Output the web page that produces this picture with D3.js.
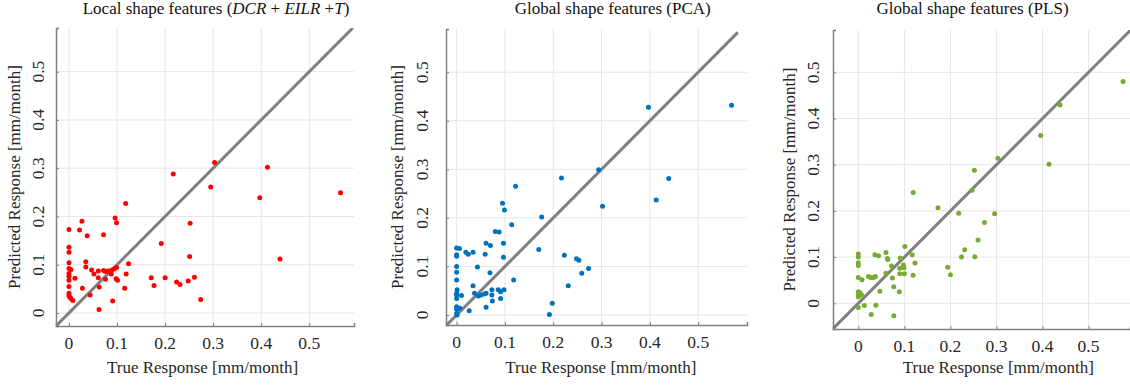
<!DOCTYPE html>
<html>
<head>
<meta charset="utf-8">
<script src="https://cdn.jsdelivr.net/npm/d3@7"></script>
<style>
  html, body { margin: 0; padding: 0; background: #fff; }
  svg { display: block; font-family: "Liberation Serif", "Times New Roman", serif; }
</style>
</head>
<body>
<div class="charts"></div>
<script>
const TITLES = [
  ["Local shape features (", ["DCR", true], " + ", ["EILR", true], " +", ["T", true], ")"],
  ["Global shape features (PCA)"],
  ["Global shape features (PLS)"],
];
const TICKS = [0, 0.1, 0.2, 0.3, 0.4, 0.5];
const TICK_LABELS = ["0", "0.1", "0.2", "0.3", "0.4", "0.5"];
const X_LABEL = "True Response [mm/month]";
const Y_LABEL = "Predicted Response [mm/month]";
const COLORS = ["#ff0000", "#0072bd", "#77ac30"];

// [true, predicted]
const localPts = [
  [0.303, 0.312], [0.217, 0.288], [0.295, 0.261], [0.413, 0.302], [0.397, 0.239], [0.565, 0.249],
  [0.118, 0.227], [0.096, 0.197], [0.099, 0.187], [0.027, 0.190], [0, 0.173], [0.022, 0.172],
  [0.038, 0.160], [0.072, 0.162], [0.252, 0.186], [0.192, 0.144], [0, 0.136], [0, 0.126],
  [0.251, 0.117], [0.439, 0.112], [0.035, 0.106], [0, 0.104], [0.124, 0.102], [0.035, 0.095],
  [0, 0.092], [0.004, 0.090], [0.047, 0.089], [0.052, 0.081], [0.061, 0.087], [0.072, 0.088],
  [0.076, 0.086], [0.081, 0.087], [0.089, 0.089], [0.094, 0.091], [0.099, 0.094], [0.088, 0.081],
  [0.076, 0.070], [0.061, 0.073], [0.098, 0.071], [0.101, 0.068], [0.119, 0.081], [0, 0.082],
  [0, 0.076], [0, 0.068], [0.0125, 0.072], [0, 0.055], [0.028, 0.051], [0.063, 0.054],
  [0.116, 0.051], [0, 0.041], [0, 0.035], [0.004, 0.030], [0.008, 0.026], [0.002, 0.033],
  [0.044, 0.037], [0.0625, 0.007], [0.091, 0.025], [0.171, 0.073], [0.177, 0.057], [0.2, 0.073],
  [0.224, 0.064], [0.231, 0.059], [0.248, 0.066], [0.261, 0.074], [0.274, 0.028],
];

const pcaPts = [
  [0.397, 0.428], [0.569, 0.432], [0.217, 0.282], [0.294, 0.299], [0.439, 0.281], [0.413, 0.237],
  [0.302, 0.224], [0.122, 0.265], [0.095, 0.230], [0.099, 0.216], [0.176, 0.202], [0.114, 0.186],
  [0.080, 0.172], [0.088, 0.171], [0.061, 0.148], [0.070, 0.143], [0.097, 0.148], [0.170, 0.135],
  [0, 0.138], [0.006, 0.137], [0, 0.124], [0, 0.121], [0.019, 0.129], [0.024, 0.125],
  [0.034, 0.129], [0.059, 0.125], [0.097, 0.119], [0.223, 0.123], [0.248, 0.116], [0.253, 0.113],
  [0.273, 0.096], [0.259, 0.086], [0, 0.100], [0, 0.088], [0, 0.072], [0.043, 0.099],
  [0.069, 0.087], [0.118, 0.072], [0.034, 0.060], [0.231, 0.060], [0.001, 0.052], [0.010, 0.040],
  [0, 0.045], [0, 0.041], [0, 0.034], [0.037, 0.045], [0.045, 0.039], [0.050, 0.041],
  [0.057, 0.043], [0.061, 0.045], [0.073, 0.052], [0.073, 0.041], [0.074, 0.029], [0.086, 0.052],
  [0.091, 0.048], [0.098, 0.052], [0.091, 0.034], [0.061, 0.016], [0, 0.017], [0, 0.012],
  [0.002, 0.014], [0.007, 0.014], [0, 0.003], [0.001, 0], [0.026, 0.009], [0.198, 0.024],
  [0.192, 0.001],
];

const plsPts = [
  [0.575, 0.480], [0.438, 0.429], [0.396, 0.363], [0.414, 0.301], [0.303, 0.314], [0.252, 0.288],
  [0.119, 0.240], [0.247, 0.245], [0.173, 0.207], [0.218, 0.195], [0.296, 0.194], [0.274, 0.175],
  [0.260, 0.137], [0.231, 0.116], [0.224, 0.100], [0.253, 0.101], [0.194, 0.078], [0.200, 0.062],
  [0, 0.107], [0, 0.100], [0, 0.088], [0, 0.082], [0.036, 0.105], [0.044, 0.103],
  [0.060, 0.110], [0.063, 0.097], [0.064, 0.095], [0.101, 0.123], [0.117, 0.105], [0.123, 0.087],
  [0.091, 0.098], [0.098, 0.083], [0.099, 0.077], [0.090, 0.076], [0.100, 0.064], [0.119, 0.061],
  [0.072, 0.081], [0.074, 0.055], [0.090, 0.064], [0.060, 0.065], [0.022, 0.058], [0.027, 0.056],
  [0.033, 0.056], [0.037, 0.058], [0, 0.056], [0.008, 0.051], [0.047, 0.026], [0.077, 0.036],
  [0.089, 0.025], [0, 0.025], [0.004, 0.023], [0, 0.018], [0.007, 0.018], [0, 0.014],
  [0.013, -0.005], [0, -0.009], [0.038, -0.004], [0.028, -0.024], [0.077, -0.027],
];

const SERIES = [localPts, pcaPts, plsPts];

// axis limits and diagonal extent per panel
const X_DOMAINS = [[-0.027, 0.593], [-0.022, 0.601], [-0.055, 0.59]];
const Y_DOMAINS = [[-0.027, 0.5905], [-0.0206, 0.589], [-0.0556, 0.5916]];
const DIAG_ENDS = [[-0.027, 0.5905], [-0.022, 0.582], [-0.056, 0.6]];

const WIDTH = 1130;
const HEIGHT = 385;

// layout in pixels: plot box, tick label offsets, label/title positions
const PANELS = [
  { left: 56, right: 354, top: 28, bottom: 326, yTickX: 37.5, yLabelX: 14.5, xLabelX: 202.5, titleX: 216 },
  { left: 446, right: 747, top: 29, bottom: 325, yTickX: 421.5, yLabelX: 397.5, xLabelX: 600.8, titleX: 612.8 },
  { left: 833, right: 1130, top: 30, bottom: 329, yTickX: 812.7, yLabelX: 789, xLabelX: 998.3, titleX: 972.5 },
];

const svg = d3
  .select(".charts")
  .append("svg")
  .attr("width", WIDTH)
  .attr("height", HEIGHT);

PANELS.forEach((p, i) => {
  const x = d3.scaleLinear().domain(X_DOMAINS[i]).range([p.left, p.right]);
  const y = d3.scaleLinear().domain(Y_DOMAINS[i]).range([p.bottom, p.top]);
  const g = svg.append("g");

  const clipId = `clip-${i}`;
  g.append("clipPath")
    .attr("id", clipId)
    .append("rect")
    .attr("x", p.left)
    .attr("y", p.top)
    .attr("width", p.right - p.left)
    .attr("height", p.bottom - p.top);

  // grid
  g.append("g")
    .selectAll("line")
    .data(TICKS)
    .join("line")
    .attr("x1", (d) => x(d))
    .attr("x2", (d) => x(d))
    .attr("y1", p.top)
    .attr("y2", p.bottom)
    .style("stroke", "#e6e6e6")
    .style("stroke-width", 1);

  g.append("g")
    .selectAll("line")
    .data(TICKS)
    .join("line")
    .attr("x1", p.left)
    .attr("x2", p.right)
    .attr("y1", (d) => y(d))
    .attr("y2", (d) => y(d))
    .style("stroke", "#e6e6e6")
    .style("stroke-width", 1);

  // axes (left + bottom only)
  const xAxis = d3.axisBottom(x).tickValues(TICKS).tickSize(-3).tickFormat("");
  const yAxis = d3.axisLeft(y).tickValues(TICKS).tickSize(-3).tickFormat("");

  const xa = g.append("g").attr("transform", `translate(0, ${p.bottom})`).call(xAxis);
  const ya = g.append("g").attr("transform", `translate(${p.left}, 0)`).call(yAxis);
  [xa, ya].forEach((a) => {
    a.select(".domain").style("stroke", "#808080").style("stroke-width", 1.5);
    a.selectAll(".tick line").style("stroke", "#808080");
  });

  // tick labels
  g.append("g")
    .selectAll("text")
    .data(TICKS)
    .join("text")
    .attr("x", (d) => x(d))
    .attr("y", p.bottom + 16.5)
    .attr("dy", "0.35em")
    .attr("text-anchor", "middle")
    .style("font-size", "17.5px")
    .style("fill", "#262626")
    .text((d, j) => TICK_LABELS[j]);

  g.append("g")
    .selectAll("text")
    .data(TICKS)
    .join("text")
    .attr("transform", (d) => `translate(${p.yTickX}, ${y(d)}) rotate(-90)`)
    .attr("dy", "0.35em")
    .attr("text-anchor", "middle")
    .style("font-size", "17.5px")
    .style("fill", "#262626")
    .text((d, j) => TICK_LABELS[j]);

  // axis labels
  g.append("text")
    .attr("x", p.xLabelX)
    .attr("y", 372.5)
    .attr("text-anchor", "middle")
    .style("font-size", "17px")
    .style("fill", "#262626")
    .text(X_LABEL);

  g.append("text")
    .attr("transform", `translate(${p.yLabelX}, ${(p.top + p.bottom) / 2}) rotate(-90)`)
    .attr("dy", "0.35em")
    .attr("text-anchor", "middle")
    .style("font-size", "17px")
    .style("fill", "#262626")
    .text(Y_LABEL);

  // title
  const title = g.append("text")
    .attr("x", p.titleX)
    .attr("y", 14)
    .attr("text-anchor", "middle")
    .style("font-size", "17px")
    .style("fill", "#111");
  TITLES[i].forEach((part) => {
    if (Array.isArray(part)) {
      title.append("tspan").style("font-style", "italic").text(part[0]);
    } else {
      title.append("tspan").text(part);
    }
  });

  // diagonal
  const ends = DIAG_ENDS[i];
  g.append("line")
    .attr("clip-path", `url(#${clipId})`)
    .attr("x1", x(ends[0]))
    .attr("y1", y(ends[0]))
    .attr("x2", x(ends[1]))
    .attr("y2", y(ends[1]))
    .style("stroke", "#7f7f7f")
    .style("stroke-width", 3);

  // points
  g.append("g")
    .selectAll("circle")
    .data(SERIES[i])
    .join("circle")
    .attr("cx", (d) => x(d[0]))
    .attr("cy", (d) => y(d[1]))
    .attr("r", 2.5)
    .style("fill", COLORS[i]);
});
</script>
</body>
</html>
